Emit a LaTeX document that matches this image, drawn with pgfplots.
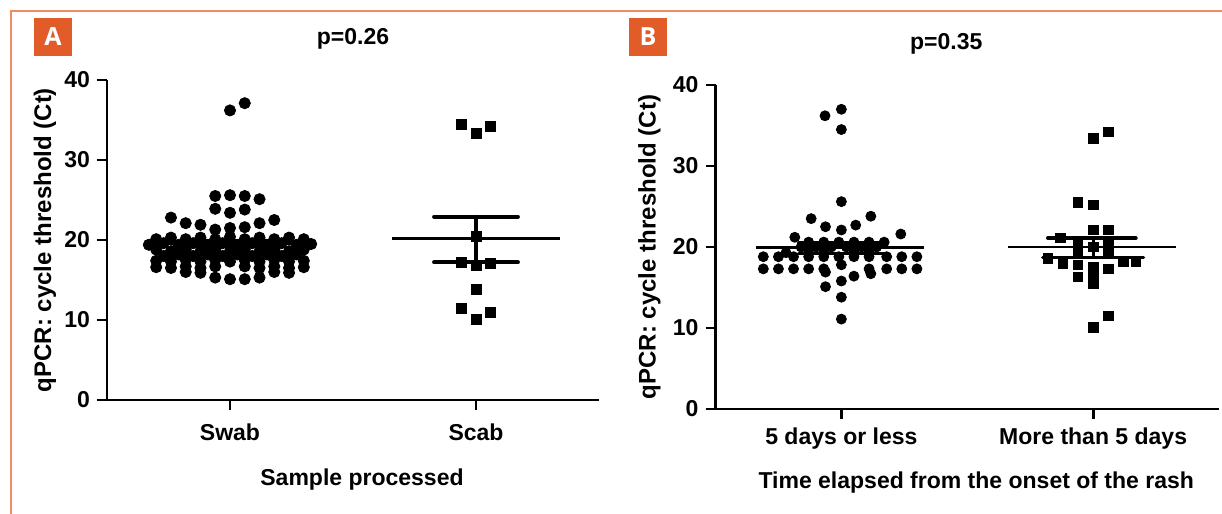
\documentclass[border=0pt]{standalone}
\usepackage{fontspec}
\setmainfont{Liberation Sans}
\newfontfamily\boxfont{Open Sans}
\usepackage{pgfplots}
\pgfplotsset{compat=1.18}
\usepackage{pgfplotstable}

\definecolor{tagorange}{RGB}{226,92,42}
\definecolor{framecol}{RGB}{241,140,100}

% panel A: Ct by sample type
\pgfplotstableread{
x y
1.06 37.1
1.00 36.2
0.94 25.5
1.00 25.6
1.06 25.5
1.12 25.1
0.94 23.9
1.00 23.4
1.06 23.8
0.76 22.8
0.82 22.1
0.88 21.9
1.12 22.1
1.18 22.5
0.94 21.3
1.00 21.5
1.06 21.6
0.70 20.1
0.76 20.3
0.82 20.1
0.88 20.3
0.94 20.1
1.00 20.4
1.06 20.1
1.12 20.3
1.18 20.1
1.24 20.3
1.30 20.1
0.67 19.4
0.73 19.6
0.79 19.4
0.85 19.6
0.91 19.4
0.97 19.6
1.03 19.4
1.09 19.6
1.15 19.4
1.21 19.6
1.27 19.4
1.33 19.5
0.70 18.8
0.76 18.6
0.82 18.8
0.88 18.6
0.94 18.8
1.00 18.6
1.06 18.8
1.12 18.6
1.18 18.8
1.24 18.6
1.30 18.8
0.73 18.0
0.79 18.2
0.85 18.0
0.91 18.2
0.97 18.0
1.03 18.2
1.09 18.0
1.15 18.2
1.21 18.0
1.27 18.2
0.70 17.4
0.76 17.3
0.82 17.5
0.88 17.3
0.94 17.5
1.00 17.3
1.06 17.5
1.12 17.3
1.18 17.5
1.24 17.3
1.30 17.4
0.70 16.6
0.76 16.5
0.82 16.7
0.88 16.5
0.94 16.7
1.06 16.7
1.12 16.5
1.18 16.7
1.24 16.5
1.30 16.6
0.82 16.0
0.88 15.9
1.18 16.0
1.24 15.9
0.94 15.3
1.00 15.1
1.06 15.1
1.12 15.3
}\swab

\pgfplotstableread{
x y
1.94 34.5
2.00 33.3
2.06 34.2
2.00 20.4
1.94 17.2
2.00 16.8
2.06 17.1
2.00 13.8
1.94 11.5
2.00 10.1
2.06 11.0
}\scab

% panel B: Ct by time since rash onset
\pgfplotstableread{
x y
0.935 36.2
1.000 37.0
1.000 34.5
1.000 25.6
0.880 23.5
1.117 23.8
0.937 22.5
1.000 22.1
1.057 22.7
0.815 21.2
1.236 21.6
0.870 20.6
0.930 20.6
0.990 20.6
1.050 20.6
1.110 20.6
1.170 20.6
0.840 20.0
0.900 20.0
0.960 20.0
1.020 20.0
1.080 20.0
1.140 20.0
0.780 19.3
0.870 19.3
0.930 19.3
1.050 19.3
1.110 19.3
0.690 18.8
0.750 18.8
0.810 18.8
0.870 18.8
0.930 18.8
0.990 18.8
1.050 18.8
1.110 18.8
1.180 18.8
1.240 18.8
1.300 18.8
0.690 17.3
0.750 17.3
0.810 17.3
0.870 17.3
0.930 17.3
1.110 17.3
1.180 17.3
1.240 17.3
1.300 17.3
1.000 17.8
0.937 16.9
1.050 16.4
1.117 16.7
1.000 15.8
0.937 15.1
1.000 13.8
1.000 11.1
}\early

\pgfplotstableread{
x y
2.00 33.4
2.06 34.2
1.94 25.5
2.00 25.2
2.00 22.1
2.06 22.1
1.87 21.1
1.94 20.5
2.06 20.5
2.00 20.0
1.94 19.4
2.06 19.2
1.82 18.6
1.88 18.0
1.94 17.8
2.00 17.5
2.06 17.3
2.12 18.2
2.17 18.2
1.94 16.3
2.00 16.9
2.00 15.5
2.06 11.5
2.00 10.1
}\late

\pgfplotsset{
  ctplot/.style={
    anchor=south west, scale only axis,
    xmin=0.5, xmax=2.5, ymin=0, ymax=40,
    axis lines=left,
    axis line style={line width=1.4pt, -},
    x axis line style={shorten <=-5pt},
    xtick={1,2}, ytick={0,10,20,30,40},
    tick align=outside, major tick length=5pt,
    tick style={line width=1.4pt, black},
    /pgf/number format/assume math mode=true,
    xticklabel style={font=\fontsize{11.5}{13}\selectfont\bfseries, anchor=center},
    yticklabel style={font=\fontsize{11.5}{12}\selectfont\bfseries},
    label style={font=\fontsize{11.5}{13}\selectfont\bfseries},
    xlabel style={at={(axis description cs:0.5,0)}, anchor=center},
    ylabel style={at={(axis description cs:0,0.5)}, anchor=center,
      font=\fontsize{12}{13}\selectfont\bfseries},
    title style={font=\fontsize{11.5}{13}\selectfont\bfseries,
      at={(axis description cs:0.5,1)}, anchor=center, yshift=14.5pt},
    ylabel={qPCR: cycle threshold (Ct)},
    clip=false,
  },
  dots/.style={only marks, mark=*, mark size=2.8pt, black, mark options={draw=none}},
  sqs/.style={only marks, mark=square*, mark size=2.5pt, black, mark options={draw=none}},
  meanline/.style={black, line width=1.4pt, no marks},
  semline/.style={black, line width=2.1pt, line cap=round, no marks},
}

\begin{document}
\begin{tikzpicture}
\useasboundingbox (0,0) rectangle (611pt,257pt);
% orange frame
\draw[framecol, line width=0.8pt] (611pt,251.5pt) -- (5.5pt,251.5pt) -- (5.5pt,0pt);
% panel tags
\fill[tagorange] (17pt,229pt) rectangle (36pt,248pt);
\node[white, font=\boxfont\bfseries\fontsize{12.5}{14}\selectfont] at (26.5pt,238.5pt) {A};
\fill[tagorange] (314.5pt,229pt) rectangle (333.5pt,248pt);
\node[white, font=\boxfont\bfseries\fontsize{12.5}{14}\selectfont] at (324pt,238.5pt) {B};

\begin{axis}[ctplot,
  at={(53.5pt,57pt)}, width=246pt, height=160pt,
  xticklabels={Swab,Scab},
  xticklabel style={yshift=-11.3pt},
  xlabel={Sample processed},
  xlabel style={yshift=-40pt, xshift=4.5pt},
  ylabel style={yshift=31pt},
  title={p=0.26}]
\addplot[dots] table {\swab};
\addplot[sqs] table {\scab};
% mean and SEM
\addplot[meanline] coordinates {(0.67,19.5) (1.33,19.5)};
\addplot[semline] coordinates {(0.83,19.8) (1.17,19.8)};
\addplot[semline] coordinates {(0.83,19.2) (1.17,19.2)};
\addplot[meanline] coordinates {(1.66,20.2) (2.34,20.2)};
\addplot[semline] coordinates {(1.83,22.9) (2.17,22.9)};
\addplot[semline] coordinates {(1.83,17.2) (2.17,17.2)};
\addplot[semline, line width=1.9pt] coordinates {(2,17.2) (2,22.9)};
\end{axis}

\begin{axis}[ctplot,
  at={(357.75pt,52.5pt)}, width=251.75pt, height=162pt,
  xticklabels={5 days or less,More than 5 days},
  xticklabel style={yshift=-9.9pt},
  xlabel={Time elapsed from the onset of the rash},
  xlabel style={yshift=-37pt, xshift=4.5pt},
  ylabel style={yshift=33pt},
  title style={xshift=-10.5pt},
  title={p=0.35}]
\addplot[dots, mark size=2.5pt] table {\early};
\addplot[sqs, mark size=2.4pt] table {\late};
\addplot[meanline] coordinates {(0.66,19.9) (1.33,19.9)};
\addplot[semline, line width=1.6pt] coordinates {(0.83,20.6) (1.18,20.6)};
\addplot[semline, line width=1.6pt] coordinates {(0.83,19.2) (1.18,19.2)};
\addplot[meanline] coordinates {(1.66,20.0) (2.33,20.0)};
\addplot[semline, line width=1.8pt] coordinates {(1.82,21.1) (2.17,21.1)};
\addplot[semline, line width=1.8pt] coordinates {(1.80,18.7) (2.20,18.7)};
\addplot[semline, line width=1.6pt] coordinates {(2,18.7) (2,21.1)};
\end{axis}
\end{tikzpicture}
\end{document}
